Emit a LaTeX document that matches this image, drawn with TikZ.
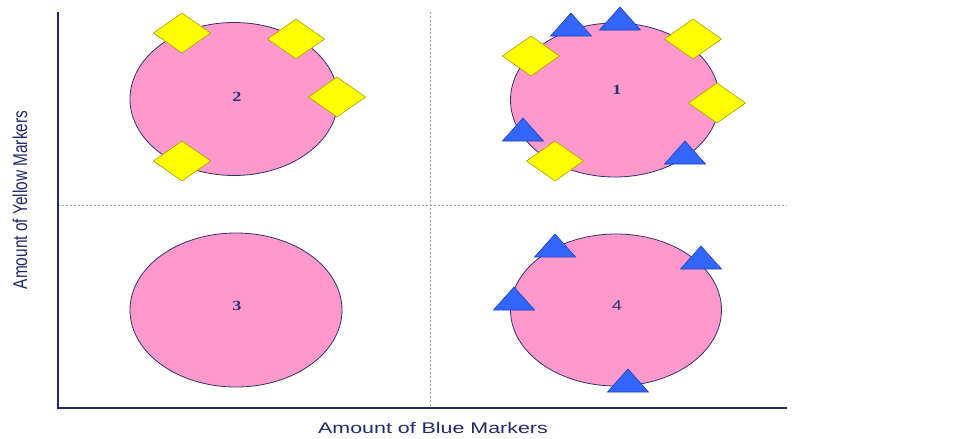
\documentclass[tikz,border=0pt]{standalone}
\usepackage{fontspec}
\setmainfont{Liberation Serif}
\newfontfamily\lsans{Liberation Sans}
\usetikzlibrary{shapes.geometric}
\definecolor{pinkf}{HTML}{FF99CC}
\definecolor{navy}{HTML}{2A3370}
\definecolor{axisc}{HTML}{1F2A66}
\definecolor{gridc}{HTML}{9CA2C4}
\definecolor{yel}{HTML}{FFFF00}
\definecolor{yeldraw}{HTML}{A0A000}
\definecolor{bluef}{HTML}{3366FF}
\definecolor{bluedraw}{HTML}{1A3FBF}
\tikzset{
  blob/.style={ellipse, draw=navy, line width=0.8pt, fill=pinkf, inner sep=0pt},
  num/.style={font=\bfseries\fontsize{14}{16}\selectfont, text=navy},
  dia/.pic={\draw[fill=yel, draw=yeldraw, line width=0.6pt] (-28.5,0)--(0,-20)--(28.5,0)--(0,20)--cycle;},
  tri/.pic={\draw[fill=bluef, draw=bluedraw, line width=0.6pt] (-20.5,0)--(20.5,0)--(0,-23)--cycle;},
  axis/.style={draw=axisc, line width=2.2pt},
  grid/.style={draw=gridc, line width=0.8pt, dash pattern=on 2pt off 2pt},
  lab/.style={font=\lsans\fontsize{15.4}{18}\selectfont, text=axisc, inner sep=0pt}
}
\begin{document}
\begin{tikzpicture}[x=1pt,y=-1pt]
\useasboundingbox[fill=white] (0,0) rectangle (959,439);
% grid and axes
\coordinate (o) at (58,408);
\coordinate (ytop) at (58,12);
\coordinate (xend) at (787,408);
\coordinate (hl) at (58,205);
\coordinate (hr) at (787,205);
\coordinate (vt) at (430,12);
\coordinate (vb) at (430,408);
\draw[grid] (hl) -- (hr);
\draw[grid] (vt) -- (vb);
\draw[axis] (ytop) -- (o) -- (xend);
% ellipses
\node[blob, minimum width=208pt, minimum height=153pt] (q2) at (234,99) {};
\node[blob, minimum width=209pt, minimum height=154pt] (q1) at (615,100) {};
\node[blob, minimum width=212pt, minimum height=154pt] (q3) at (236,310) {};
\node[blob, minimum width=211pt, minimum height=152pt] (q4) at (616,310) {};
\node[num] (n2) at (237,97) {\scalebox{1.3}[1]{2}};
\node[num] (n1) at (617,90) {\scalebox{1.3}[1]{1}};
\node[num] (n3) at (237,306) {\scalebox{1.3}[1]{3}};
\node[num, font=\lsans\fontsize{14}{16}\selectfont] (n4) at (617,306) {\scalebox{1.3}[1]{4}};
% markers, quadrant 2
\pic at (182,33) {dia};
\pic at (296,39) {dia};
\pic at (337,97) {dia};
\pic at (182,161) {dia};
% quadrant 1
\pic at (531,56) {dia};
\pic at (693,39) {dia};
\pic at (717,103) {dia};
\pic at (555,161) {dia};
\pic at (571,36) {tri};
\pic at (620,30) {tri};
\pic at (523,141) {tri};
\pic at (685,164) {tri};
% quadrant 4
\pic at (555,257) {tri};
\pic at (701,269) {tri};
\pic at (514,310) {tri};
\pic at (628,392) {tri};
% axis labels
\node[lab] (xl) at (433,428) {\scalebox{1.39}[1]{Amount of Blue Markers}};
\node[lab, rotate=90] (yl) at (20,200) {\scalebox{1}[1.3]{Amount of Yellow Markers}};
\end{tikzpicture}
\end{document}
